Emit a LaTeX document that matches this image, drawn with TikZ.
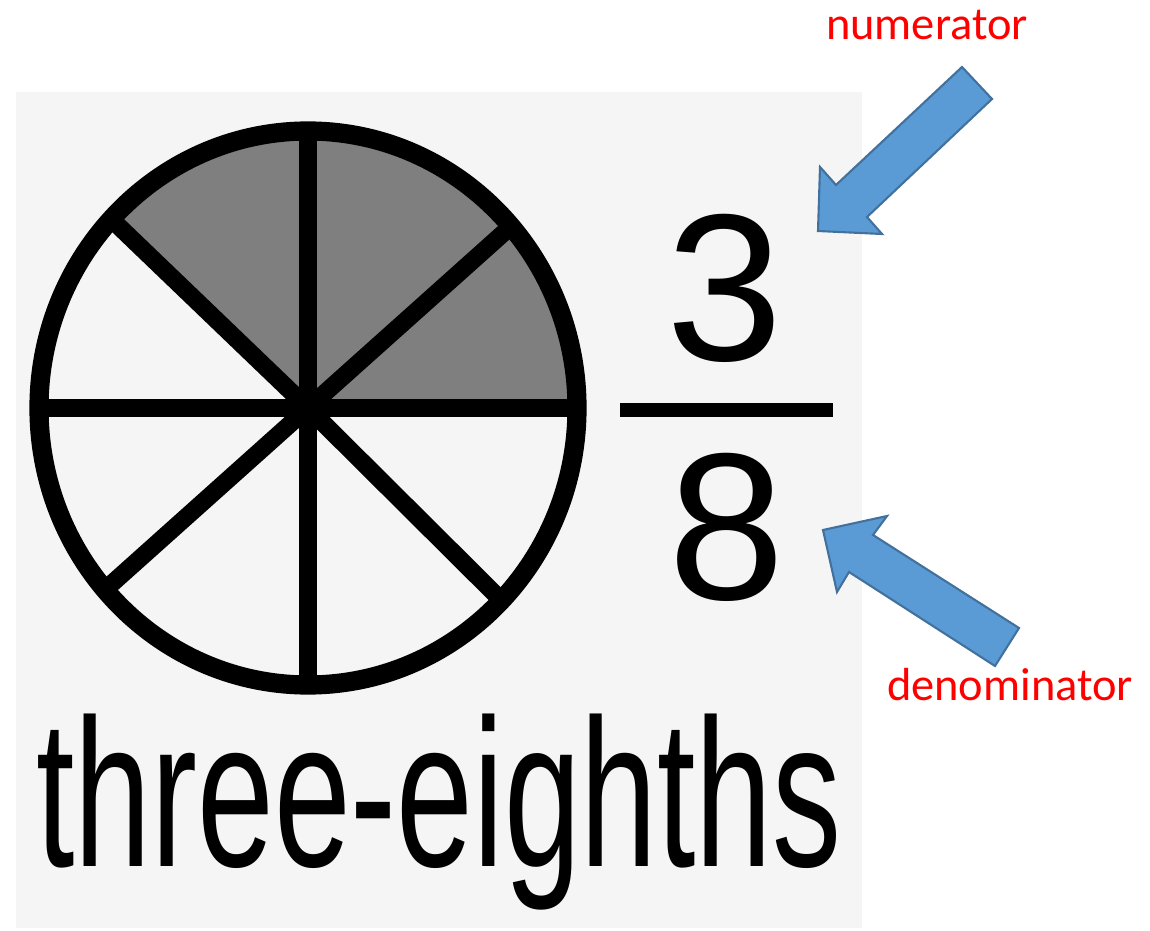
\documentclass[tikz,border=0pt]{standalone}
\usepackage{fontspec}
\setmainfont{Liberation Sans}
\newfontfamily\figlabelfont{Carlito}
\usepackage{graphicx}
\usetikzlibrary{positioning}
\definecolor{figpanel}{HTML}{F5F5F5}
\definecolor{figshade}{HTML}{7F7F7F}
\definecolor{figarrowfill}{HTML}{5B9BD5}
\definecolor{figarrowline}{HTML}{41719C}
\definecolor{figlabelred}{HTML}{FF0000}

\begin{document}
\begin{tikzpicture}[
  x=0.025cm, y=0.025cm,
  figspoke/.style={line width=0.44cm},
  figrim/.style={line width=0.48cm},
  figbar/.style={line width=0.34cm},
  figdigit/.style={inner sep=0pt, font=\fontsize{149}{150}\selectfont},
  figword/.style={inner sep=0pt},
  figlabel/.style={inner sep=0pt, anchor=base, text=figlabelred,
    font=\figlabelfont\fontsize{33}{36}\selectfont},
  figblock/.style={fill=figarrowfill, draw=figarrowline, line width=1.5pt},
]
\useasboundingbox (0,0) rectangle (1150,930);
\fill[figpanel] (16,2) rectangle (862,838);
% circle cut in eight, three parts shaded
\coordinate (figcentre) at (308,522);
\fill[figshade] (figcentre) -- ++(0:269 and 277)
  arc[start angle=0, end angle=138, x radius=269, y radius=277] -- cycle;
\foreach \figang in {0,41,90,137,180,221,270,316}
  \draw[figspoke] (figcentre) -- ++(\figang:269 and 277);
\draw[figrim] (figcentre) ellipse[x radius=269, y radius=277];
\fill (figcentre) circle[radius=16];
% the fraction
\node[figdigit] (fignum) at (725,642) {3};
\node[figdigit] (figden) at (727,403) {8};
\coordinate (figbarL) at (620,520);
\coordinate (figbarR) at (833,520);
\draw[figbar] (figbarL) -- (figbarR);
\node[figword] (figword) at (439,118) {\resizebox*{20.1cm}{4.9cm}{three-eighths}};
% labels with block arrows
\node[figlabel] (fignumlabel) at (927,890) {numerator};
\node[figlabel] (figdenlabel) at (1010,230) {denominator};
\draw[figblock] (818,699) -- (820,763) -- (836,745) -- (962,863)
  -- (992,831) -- (867,713) -- (882,696) -- cycle;
\draw[figblock] (823,400) -- (887,414) -- (873,395) -- (1019,302)
  -- (995,264) -- (849,358) -- (837,338) -- cycle;
\end{tikzpicture}
\end{document}
